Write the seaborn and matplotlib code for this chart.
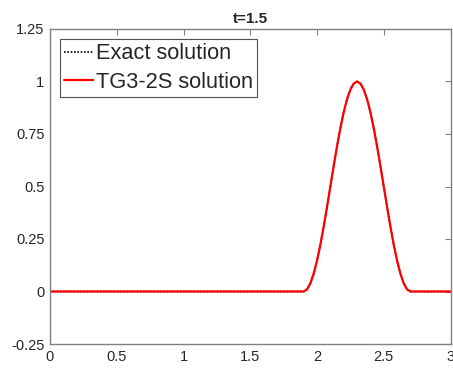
import numpy as np
import pandas as pd
import matplotlib
matplotlib.use("Agg")
import matplotlib.pyplot as plt
import seaborn as sns

# Sampled profile at t=1.5: flat zero, with a smooth bump between x=1.9 and x=2.7
x_vals = [0.0, 0.5, 1.0, 1.5, 1.9,
          1.925, 1.95, 1.975, 2.0, 2.025, 2.05, 2.075, 2.1,
          2.125, 2.15, 2.175, 2.2, 2.225, 2.25, 2.275, 2.3,
          2.325, 2.35, 2.375, 2.4, 2.425, 2.45, 2.475, 2.5,
          2.525, 2.55, 2.575, 2.6, 2.625, 2.65, 2.675, 2.7,
          2.8, 2.9, 3.0]
exact_vals = [0.0, 0.0, 0.0, 0.0, 0.0,
              0.0096, 0.0381, 0.0843, 0.1464, 0.2222, 0.3087, 0.4025, 0.5,
              0.5975, 0.6913, 0.7778, 0.8536, 0.9157, 0.9619, 0.9904, 1.0,
              0.9904, 0.9619, 0.9157, 0.8536, 0.7778, 0.6913, 0.5975, 0.5,
              0.4025, 0.3087, 0.2222, 0.1464, 0.0843, 0.0381, 0.0096, 0.0,
              0.0, 0.0, 0.0]
tg3_vals = [0.0, 0.0, 0.0, 0.0, 0.0,
            0.0096, 0.0381, 0.0843, 0.1464, 0.2222, 0.3087, 0.4025, 0.5,
            0.5975, 0.6913, 0.7778, 0.8536, 0.9157, 0.9619, 0.9904, 1.0,
            0.9904, 0.9619, 0.9157, 0.8536, 0.7778, 0.6913, 0.5975, 0.5,
            0.4025, 0.3087, 0.2222, 0.1464, 0.0843, 0.0381, 0.0096, 0.0,
            0.0, 0.0, 0.0]

x_ticks = [0, 0.5, 1, 1.5, 2, 2.5, 3]
x_tick_labels = ["0", "0.5", "1", "1.5", "2", "2.5", "3"]
y_ticks = [-0.25, 0, 0.25, 0.5, 0.75, 1, 1.25]
y_tick_labels = ["-0.25", "0", "0.25", "0.5", "0.75", "1", "1.25"]

df = pd.DataFrame({"x": x_vals, "exact": exact_vals, "tg3": tg3_vals})

sns.set_style("white")
plt.rcParams["font.family"] = ["Liberation Sans", "DejaVu Sans"]

fig = plt.figure(figsize=(4.53, 3.71), dpi=100)
ax = fig.add_axes([50 / 453, 27 / 371, 400.5 / 453, 315 / 371])

sns.lineplot(data=df, x="x", y="exact", ax=ax, color="black", lw=1.2,
             linestyle=(0, (1, 1)), label="Exact solution")
sns.lineplot(data=df, x="x", y="tg3", ax=ax, color="#ff0000", lw=1.6,
             label="TG3-2S solution")

ax.set_xlim(0, 3)
ax.set_ylim(-0.25, 1.25)
ax.set_xticks(x_ticks)
ax.set_xticklabels(x_tick_labels)
ax.set_yticks(y_ticks)
ax.set_yticklabels(y_tick_labels)
ax.set_xlabel("")
ax.set_ylabel("")
ax.set_title("t=1.5", fontsize=11, fontweight="bold", pad=4)

edge = "#808080"
for s in ax.spines.values():
    s.set_visible(True)
    s.set_color(edge)
    s.set_linewidth(1.0)
ax.tick_params(axis="both", direction="in", length=4, width=0.8, colors=edge,
               labelcolor="#262626", labelsize=10.5, top=True, right=True,
               pad=4)

leg = ax.legend(loc="upper left", fontsize=15.7, frameon=True, fancybox=False,
                borderpad=0.2, handlelength=1.3, handletextpad=0.15,
                labelspacing=0.35, borderaxespad=0.45)
leg.get_frame().set_edgecolor("#262626")
leg.get_frame().set_linewidth(0.8)
leg.get_frame().set_facecolor("white")

fig.savefig("out.png", dpi=100)
